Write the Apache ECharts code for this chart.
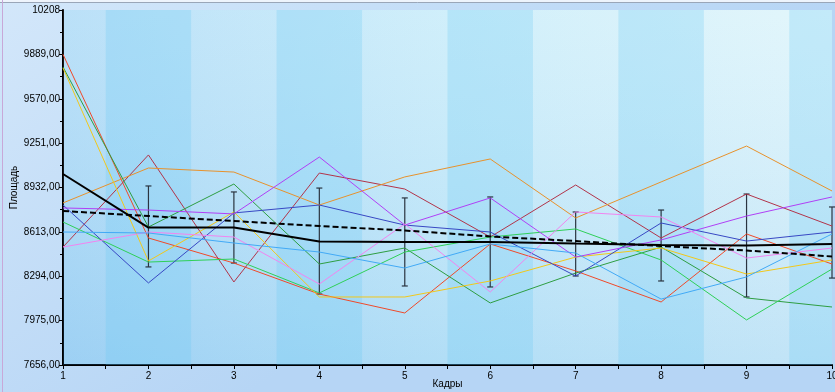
<!DOCTYPE html>
<html>
<head>
<meta charset="utf-8">
<script src="https://cdn.jsdelivr.net/npm/echarts@6/dist/echarts.min.js"></script>
<style>
html,body{margin:0;padding:0;background:#c4ddf7;}
#chart{width:835px;height:392px;}
</style>
</head>
<body>
<div id="chart"></div>
<script>
// ---- data ----
const frames = [1, 2, 3, 4, 5, 6, 7, 8, 9, 10];
const yTicks = [7656, 7975, 8294, 8613, 8932, 9251, 9570, 9889, 10208];

const sRed       = [9889, 8569, 8389, 8166, 8030, 8526, 8332, 8109, 8598, 8382];
const sDarkRed   = [8504, 9166, 8253, 9036, 8921, 8576, 8950, 8569, 8885, 8655];
const sOrange    = [8821, 9072, 9043, 8806, 9008, 9137, 8713, 8972, 9230, 8907];
const sDarkGreen = [9798, 8648, 8957, 8382, 8497, 8102, 8317, 8504, 8138, 8073];
const sLightGreen= [8684, 8396, 8418, 8174, 8468, 8576, 8634, 8411, 7980, 8346];
const sYellow    = [9791, 8404, 8756, 8145, 8145, 8260, 8432, 8497, 8310, 8411];
const sBlue      = [8806, 8246, 8749, 8806, 8662, 8612, 8296, 8677, 8547, 8612];
const sPurple    = [8785, 8770, 8742, 9151, 8662, 8857, 8432, 8555, 8727, 8864];
const sPink      = [8504, 8612, 8576, 8238, 8670, 8181, 8756, 8720, 8425, 8497];
const sLightBlue = [8612, 8605, 8533, 8468, 8353, 8526, 8461, 8130, 8289, 8598];

const meanVals   = [9029, 8644, 8644, 8544, 8540, 8540, 8529, 8519, 8515, 8526];
const trendVals  = [8763, 8727, 8691, 8655, 8623, 8580, 8547, 8511, 8479, 8436];
const errFrames  = [2, 3, 4, 5, 6, 7, 8, 9, 10];
const errLow     = [8361, 8389, 8166, 8224, 8217, 8296, 8260, 8145, 8281];
const errHigh    = [8943, 8900, 8928, 8857, 8864, 8756, 8770, 8885, 8792];

const thinSeries = [
  {data: sRed, color: '#f04a2a'},
  {data: sDarkRed, color: '#b2344a'},
  {data: sOrange, color: '#e8922c'},
  {data: sDarkGreen, color: '#2e9e42'},
  {data: sLightGreen, color: '#2fd058'},
  {data: sYellow, color: '#f2c81a'},
  {data: sBlue, color: '#3848c4'},
  {data: sPurple, color: '#b040f6'},
  {data: sPink, color: '#f284f0'},
  {data: sLightBlue, color: '#42aaf6'}
];

const chart = echarts.init(document.getElementById('chart'), null, {renderer: 'canvas'});
const pair = (arr) => frames.map((f, i) => [f, arr[i]]);

// dark bands between half frames
const bands = [];
for (let i = 1; i < frames.length; i += 2) {
  bands.push([{xAxis: frames[i] - 0.5}, {xAxis: Math.min(frames[i] + 0.5, frames[frames.length - 1])}]);
}

const series = [];
series.push({
  type: 'line', data: [], silent: true,
  markArea: {
    silent: true,
    itemStyle: {color: new echarts.graphic.LinearGradient(0, 0, 0, 1, [
      {offset: 0, color: 'rgba(255,255,255,0.10)'},
      {offset: 1, color: 'rgba(40,140,225,0.16)'}
    ])},
    data: [[{xAxis: frames[0], yAxis: yTicks[yTicks.length - 1]}, {xAxis: frames[frames.length - 1], yAxis: yTicks[0]}]]
  }
});
series.push({
  type: 'line', data: [], silent: true,
  markArea: {
    silent: true,
    itemStyle: {color: 'rgba(100,200,245,0.25)'},
    data: bands
  }
});
thinSeries.forEach(s => series.push({
  type: 'line', data: pair(s.data), symbol: 'none', silent: true,
  lineStyle: {color: s.color, width: 1}
}));
series.push({
  type: 'custom', silent: true,
  data: errFrames.map((f, i) => [f, errLow[i], errHigh[i]]),
  renderItem: function (params, api) {
    const x = api.value(0);
    const lo = api.coord([x, api.value(1)]);
    const hi = api.coord([x, api.value(2)]);
    const w = 3;
    const st = {stroke: '#2a3440', lineWidth: 1.2};
    return {type: 'group', children: [
      {type: 'line', shape: {x1: lo[0], y1: lo[1], x2: hi[0], y2: hi[1]}, style: st},
      {type: 'line', shape: {x1: lo[0] - w, y1: lo[1], x2: lo[0] + w, y2: lo[1]}, style: st},
      {type: 'line', shape: {x1: hi[0] - w, y1: hi[1], x2: hi[0] + w, y2: hi[1]}, style: st}
    ]};
  }
});
series.push({
  type: 'line', data: pair(trendVals), symbol: 'none', silent: true,
  lineStyle: {color: '#000', width: 2, type: [6, 3]}
});
series.push({
  type: 'line', data: pair(meanVals), symbol: 'none', silent: true,
  lineStyle: {color: '#000', width: 2}
});

const fmtY = (v) => v === yTicks[yTicks.length - 1] ? String(v) : v.toFixed(2).replace('.', ',');

chart.setOption({
  animation: false,
  backgroundColor: new echarts.graphic.LinearGradient(0, 0, 0.3, 1, [
    {offset: 0, color: '#d3e7fa'},
    {offset: 1, color: '#b6d5f5'}
  ]),
  grid: {
    left: 63, right: 3, top: 10, bottom: 27, show: true, borderWidth: 0,
    outerBoundsMode: 'none', containLabel: false,
    backgroundColor: new echarts.graphic.LinearGradient(0, 0, 1, 0, [
      {offset: 0, color: '#b3ddf7'},
      {offset: 0.5, color: '#cbedfa'},
      {offset: 1, color: '#e0f5fb'}
    ])
  },
  xAxis: {
    type: 'value', min: frames[0], max: frames[frames.length - 1], interval: 1,
    name: 'Кадры', nameLocation: 'middle', nameGap: 14, nameMoveOverlap: false,
    nameTextStyle: {fontFamily: 'Liberation Sans', fontSize: 10, color: '#000'},
    axisLine: {show: true, onZero: false, lineStyle: {color: '#000', width: 2}},
    axisTick: {show: true, length: 4, lineStyle: {color: '#000', width: 1}},
    minorTick: {show: true, splitNumber: 2, length: 4, lineStyle: {color: '#000', width: 1}},
    axisLabel: {fontFamily: 'Liberation Sans', fontSize: 10, color: '#000', margin: 6},
    splitLine: {show: false}
  },
  yAxis: {
    type: 'value', min: yTicks[0], max: yTicks[yTicks.length - 1], interval: yTicks[1] - yTicks[0],
    name: 'Площадь', nameLocation: 'middle', nameGap: 44, nameRotate: 90, nameMoveOverlap: false,
    nameTextStyle: {fontFamily: 'Liberation Sans', fontSize: 10, color: '#000'},
    axisLine: {show: true, onZero: false, lineStyle: {color: '#000', width: 2}},
    axisTick: {show: true, length: 4, lineStyle: {color: '#000', width: 1}},
    minorTick: {show: true, splitNumber: 2, length: 3, lineStyle: {color: '#000', width: 1}},
    axisLabel: {fontFamily: 'Liberation Sans', fontSize: 10, color: '#000', margin: 3, formatter: fmtY},
    splitLine: {show: false}
  },
  graphic: [
    {type: 'rect', shape: {x: 0, y: 0, width: 835, height: 2}, style: {fill: '#eef4fc'}, silent: true},
    {type: 'line', shape: {x1: 0, y1: 2.5, x2: 835, y2: 2.5}, style: {stroke: '#9aa6b8', lineWidth: 1}, silent: true},
    {type: 'line', shape: {x1: 2.5, y1: 0, x2: 2.5, y2: 392}, style: {stroke: '#c8a8d8', lineWidth: 1}, silent: true}
  ],
  series: series
});
</script>
</body>
</html>
